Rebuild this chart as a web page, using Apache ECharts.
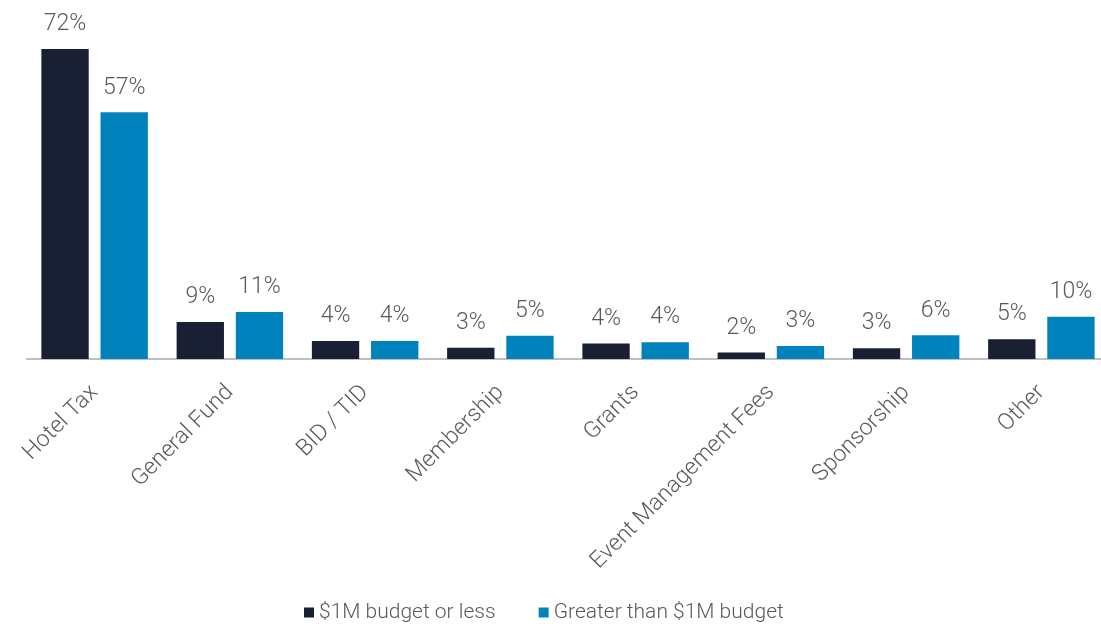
<!DOCTYPE html>
<html><head><meta charset="utf-8">
<script src="https://cdn.jsdelivr.net/npm/echarts@6/dist/echarts.min.js"></script>
<style>html,body{margin:0;padding:0;background:#fff}#c{width:1101px;height:632px}</style>
</head><body><div id="c"></div>
<script>
const categories = ["Hotel Tax","General Fund","BID / TID","Membership","Grants","Event Management Fees","Sponsorship","Other"];
const seriesNames = ["$1M budget or less","Greater than $1M budget"];
const smallBudget = [72, 8.6, 4.2, 2.6, 3.6, 1.5, 2.5, 4.6];
const largeBudget = [57.3, 10.9, 4.2, 5.4, 3.9, 3.0, 5.5, 9.8];
const colors = ["#1a2033", "#0083bd"];
const FONT = "Roboto";
const chart = echarts.init(document.getElementById('c'));
const lbl = {show:true, position:'top', distance:13, color:'#595959', fontFamily:FONT, fontWeight:300, fontSize:23,
  formatter: p => Math.round(p.value) + '%'};
chart.setOption({
  animation:false,
  legend:{left:299, top:597, itemWidth:10, itemHeight:10, itemGap:43, icon:'rect',
    textStyle:{color:'#595959', fontFamily:FONT, fontWeight:300, fontSize:21}, data:seriesNames},
  grid:{left:27, width:1082, top:49, bottom:273, containLabel:false, outerBoundsMode:'none'},
  xAxis:{type:'category', data:categories,
    axisLine:{lineStyle:{color:'#bfbfbf', width:2}}, axisTick:{show:false},
    axisLabel:{rotate:45, interval:0, margin:30, color:'#595959', fontFamily:FONT, fontWeight:300, fontSize:23}},
  yAxis:{type:'value', min:0, max:72, show:false, splitLine:{show:false}},
  series:[
    {name:seriesNames[0], type:'bar', data:smallBudget, barWidth:'35%', barGap:'25%', itemStyle:{color:colors[0]}, label:lbl},
    {name:seriesNames[1], type:'bar', data:largeBudget, barWidth:'35%', barGap:'25%', itemStyle:{color:colors[1]}, label:lbl}
  ]
});
</script></body></html>
